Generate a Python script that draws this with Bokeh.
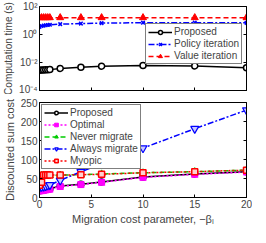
from bokeh.plotting import figure
from bokeh.layouts import column
from bokeh.models import (FixedTicker, LinearAxis, LogAxis, Legend, LegendItem, Range1d)
from bokeh.embed import file_html
from bokeh.resources import INLINE

# ---- data ----
x = [0, 0.2, 0.4, 0.6, 0.8, 1, 2, 4, 6, 10, 15, 20]

# computation time (s)
t_proposed = [0.0028, 0.0029, 0.0029, 0.0030, 0.0030, 0.0031, 0.0038, 0.0045, 0.0055, 0.0060, 0.0057, 0.0043]
t_policy = [3.5, 4.0, 4.3, 4.6, 4.8, 5.0, 5.5, 6.0, 6.5, 7.0, 7.0, 6.8]
t_value = [16, 16, 16, 16, 16, 16, 16, 16, 16, 16, 16, 16]

# discounted sum cost
c_proposed = [18, 19, 20, 21, 22, 23, 30, 35, 41, 54, 62, 68]
c_optimal = [17, 18, 19, 20, 21, 22, 29, 34, 40, 53, 61, 67]
c_never = [58, 58, 58, 58, 58, 58, 59, 60, 62, 65, 68, 72]
c_always = [26, 28, 29, 30, 32, 33, 45, 68, 88, 130, 181, 230]
c_myopic = [32, 40, 59, 59, 59, 59, 59, 60, 61, 65, 68, 72]

xticks = [0, 5, 10, 15, 20]
top_yticks = [1e-4, 1e-2, 1, 1e2]
top_ylabels = {1e-4: "10\u207b\u2074", 1e-2: "10\u207b\u00b2", 1: "10\u2070", 1e2: "10\u00b2"}
bot_yticks = [0, 50, 100, 150, 200, 250]

FONT = "Liberation Sans"
W = 252


def style_axis(ax, show_labels=True):
    ax.major_tick_in = 3
    ax.major_tick_out = 0
    ax.minor_tick_in = 0
    ax.minor_tick_out = 0
    ax.axis_line_color = "black"
    ax.major_tick_line_color = "black"
    ax.major_label_text_font = FONT
    if show_labels:
        ax.major_label_text_font_size = "10px"
        ax.major_label_standoff = 2
    else:
        ax.major_label_text_font_size = "2px"
        ax.major_label_text_color = None
        ax.major_label_standoff = 0
    ax.axis_label_text_font = FONT
    ax.axis_label_text_font_size = "11px"
    ax.axis_label_text_font_style = "normal"
    ax.axis_label_standoff = 2


# ---- top figure ----
p1 = figure(width=W, height=94, y_axis_type="log", output_backend="svg",
            toolbar_location=None, x_range=Range1d(0, 20), y_range=Range1d(1e-4, 1e2),
            min_border_top=6, min_border_bottom=4, min_border_left=8, min_border_right=6)
p1.grid.visible = False
p1.outline_line_color = "black"
p1.xaxis.ticker = FixedTicker(ticks=xticks)
p1.yaxis.ticker = FixedTicker(ticks=top_yticks)
p1.yaxis.major_label_overrides = top_ylabels
p1.yaxis.axis_label = "Computation time (s)"
for ax in p1.xaxis:
    style_axis(ax, show_labels=False)
for ax in p1.yaxis:
    style_axis(ax)
p1.yaxis.axis_label_text_font_size = "10px"
ax_r = LogAxis(ticker=FixedTicker(ticks=top_yticks))
style_axis(ax_r, show_labels=False)
p1.add_layout(ax_r, "right")

r1 = p1.line(x, t_proposed, line_color="black", line_width=1.5)
m1 = p1.scatter(x, t_proposed, marker="circle", size=6, line_color="black", fill_color="white", line_width=1.5)
r2 = p1.line(x, t_policy, line_color="blue", line_width=1.5, line_dash="6 2 2 2")
m2 = p1.scatter(x, t_policy, marker="x", size=5, line_color="blue", line_width=1.5)
r3 = p1.line(x, t_value, line_color="red", line_width=1.5, line_dash="5 3")
m3 = p1.scatter(x, t_value, marker="triangle", size=7, line_color="red", fill_color="red")

leg1 = Legend(items=[LegendItem(label="Proposed", renderers=[r1, m1]),
                     LegendItem(label="Policy iteration", renderers=[r2, m2]),
                     LegendItem(label="Value iteration", renderers=[r3, m3])],
              location=(106, 26), label_text_font=FONT, label_text_font_size="10px",
              label_height=10, glyph_height=10, glyph_width=24, spacing=1, padding=2,
              label_standoff=2, border_line_color="black", background_fill_alpha=1)
p1.add_layout(leg1)

# ---- bottom figure ----
p2 = figure(width=W, height=133, output_backend="svg", toolbar_location=None,
            x_range=Range1d(0, 20), y_range=Range1d(0, 250),
            min_border_top=8, min_border_bottom=2, min_border_left=8, min_border_right=6)
p2.grid.visible = False
p2.outline_line_color = "black"
p2.xaxis.ticker = FixedTicker(ticks=xticks)
p2.yaxis.ticker = FixedTicker(ticks=bot_yticks)
p2.xaxis.axis_label = "Migration cost parameter, \u2212\u03b2\u2097"
p2.yaxis.axis_label = "Discounted sum cost"
for ax in p2.xaxis:
    style_axis(ax)
for ax in p2.yaxis:
    style_axis(ax)
ax_r2 = LinearAxis(ticker=FixedTicker(ticks=bot_yticks))
style_axis(ax_r2, show_labels=False)
p2.add_layout(ax_r2, "right")

b1 = p2.line(x, c_proposed, line_color="black", line_width=1.5)
bm1 = p2.scatter(x, c_proposed, marker="circle", size=6, line_color="black", fill_color="white", line_width=1.5)
b2 = p2.line(x, c_optimal, line_color="magenta", line_width=1.5, line_dash="2 2")
bm2 = p2.scatter(x, c_optimal, marker="square_x", size=6, line_color="magenta", fill_color="magenta")
b3 = p2.line(x, c_never, line_color="#00cc00", line_width=1.5, line_dash="5 3")
bm3 = p2.scatter(x, c_never, marker="triangle", size=7, line_color="#00cc00", fill_color="#00cc00")
b4 = p2.line(x, c_always, line_color="blue", line_width=1.5, line_dash="6 2 2 2")
bm4 = p2.scatter(x, c_always, marker="inverted_triangle", size=8, line_color="blue", fill_color="#c8c8ff", line_width=1.2)
b5 = p2.line(x, c_myopic, line_color="red", line_width=1.5, line_dash="2 2")
bm5 = p2.scatter(x, c_myopic, marker="square", size=6, line_color="red", fill_color="#ffd0d0", line_width=1.5)

leg2 = Legend(items=[LegendItem(label="Proposed", renderers=[b1, bm1]),
                     LegendItem(label="Optimal", renderers=[b2, bm2]),
                     LegendItem(label="Never migrate", renderers=[b3, bm3]),
                     LegendItem(label="Always migrate", renderers=[b4, bm4]),
                     LegendItem(label="Myopic", renderers=[b5, bm5])],
              location="top_left", margin=2, label_text_font=FONT, label_text_font_size="10px",
              label_height=9, glyph_height=9, glyph_width=24, spacing=1, padding=2,
              label_standoff=2, border_line_color="black", background_fill_alpha=1)
p2.add_layout(leg2)

layout = column(p1, p2, spacing=0)
open("out.html", "w").write(file_html(layout, INLINE))
